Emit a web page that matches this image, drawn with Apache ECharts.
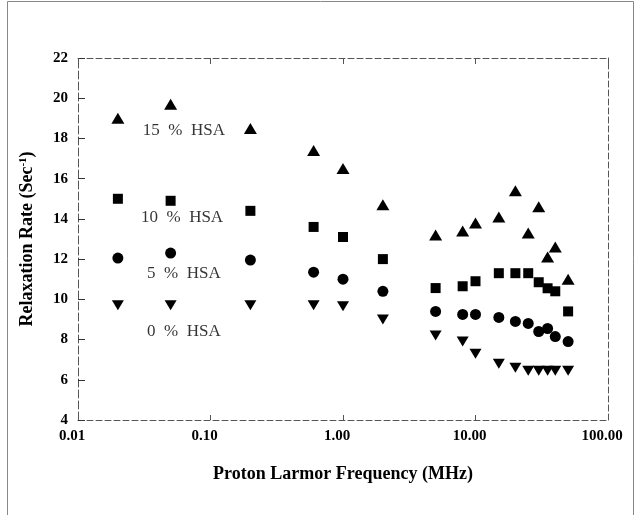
<!DOCTYPE html>
<html><head><meta charset="utf-8">
<script src="https://cdn.jsdelivr.net/npm/echarts@6/dist/echarts.min.js"></script>
<style>html,body{margin:0;padding:0;background:#fff}#c{width:637px;height:515px}</style>
</head><body><div id="c"></div>
<script>
const freq = [0.02, 0.05, 0.2, 0.6, 1.0, 2.0, 5, 8, 10, 15, 20, 25, 30, 35, 40, 50];
const hsa15 = [19.0, 19.7, 18.5, 17.4, 16.5, 14.7, 13.2, 13.4, 13.8, 14.1, 15.4, 13.3, 14.6, 12.1, 12.6, 11.0];
const hsa10 = [15.0, 14.9, 14.4, 13.6, 13.1, 12.0, 10.56, 10.65, 10.9, 11.3, 11.3, 11.3, 10.85, 10.55, 10.4, 9.4];
const hsa5  = [12.05, 12.3, 11.95, 11.35, 11.0, 10.4, 9.4, 9.25, 9.25, 9.1, 8.9, 8.8, 8.4, 8.55, 8.15, 7.9];
const hsa0  = [9.7, 9.7, 9.7, 9.7, 9.65, 9.0, 8.2, 7.9, 7.3, 6.8, 6.6, 6.45, 6.45, 6.45, 6.45, 6.45];
const seriesLabels = ['15  %  HSA', '10  %  HSA', '5  %  HSA', '0  %  HSA'];
const labelX = [0.063, 0.061, 0.063, 0.063];
const labelY = [18.4, 14.05, 11.3, 8.4];
const yTicks = [4, 22, 2];
const xTicks = [0.01, 100];

const zip = (xs, ys) => xs.map((x, i) => [x, ys[i]]);
const chart = echarts.init(document.getElementById('c'));
const serif = '"Liberation Serif", "DejaVu Serif", serif';
const frameLine = {show: true, lineStyle: {color: '#555', width: 1, type: [6, 3]}};
const mk = (name, data, symbol, size, rotate) => ({
  name, type: 'scatter', data, symbol, symbolSize: size, symbolRotate: rotate || 0,
  itemStyle: {color: '#000', opacity: 1}, z: 3
});
chart.setOption({
  animation: false,
  backgroundColor: '#fff',
  graphic: [{type: 'rect', shape: {x: 7.5, y: 1.5, width: 626, height: 520}, style: {fill: 'none', stroke: '#888', lineWidth: 1}}],
  grid: {left: 78, right: 29, top: 58, bottom: 95},
  xAxis: [{
    type: 'log', logBase: 10, min: xTicks[0], max: xTicks[1],
    axisLine: frameLine,
    axisTick: {show: true, inside: true, length: 5, lineStyle: {color: '#555'}},
    minorTick: {show: false},
    splitLine: {show: false},
    axisLabel: {margin: 9, fontFamily: serif, fontWeight: 'bold', fontSize: 15, color: '#000',
      padding: [0, 12, 0, 0],
      formatter: v => Number(v).toFixed(2)},
    name: 'Proton Larmor Frequency (MHz)', nameLocation: 'middle', nameGap: 45,
    nameTextStyle: {fontFamily: serif, fontWeight: 'bold', fontSize: 18, color: '#000'}
  }, {
    type: 'log', logBase: 10, min: xTicks[0], max: xTicks[1], position: 'top',
    axisLine: frameLine, axisTick: {show: true, inside: true, length: 6, lineStyle: {color: '#555'}},
    axisLabel: {show: false}, splitLine: {show: false}
  }],
  yAxis: [{
    type: 'value', min: yTicks[0], max: yTicks[1], interval: yTicks[2],
    axisLine: {show: true, lineStyle: {color: '#555', width: 1, type: [8, 3]}},
    axisTick: {show: true, inside: true, length: 7, lineStyle: {color: '#333'}},
    splitLine: {show: false},
    axisLabel: {margin: 10, fontFamily: serif, fontWeight: 'bold', fontSize: 15, color: '#000'},
    name: '{n|Relaxation Rate (Sec}{s|-1}{n|)}', nameLocation: 'middle', nameGap: 42, nameRotate: 90,
    nameTextStyle: {rich: {
      n: {fontFamily: serif, fontWeight: 'bold', fontSize: 18, color: '#000'},
      s: {fontFamily: serif, fontWeight: 'bold', fontSize: 11, color: '#000', verticalAlign: 'top', padding: [0, 0, 7, 0]}
    }}
  }, {
    type: 'value', min: yTicks[0], max: yTicks[1], interval: yTicks[2], position: 'right',
    axisLine: frameLine, axisTick: {show: false}, axisLabel: {show: false}, splitLine: {show: false}
  }],
  series: [
    mk('15 % HSA', zip(freq, hsa15), 'triangle', [13, 11]),
    mk('10 % HSA', zip(freq, hsa10), 'rect', [10, 10]),
    mk('5 % HSA', zip(freq, hsa5), 'circle', 11),
    mk('0 % HSA', zip(freq, hsa0), 'triangle', [12, 10], 180),
    {
      type: 'scatter', symbolSize: 0, silent: true,
      data: seriesLabels.map((t, i) => ({value: [labelX[i], labelY[i]], name: t})),
      label: {show: true, position: 'inside', formatter: p => p.name,
        fontFamily: serif, fontSize: 17, color: '#000'}
    }
  ]
});
</script></body></html>
